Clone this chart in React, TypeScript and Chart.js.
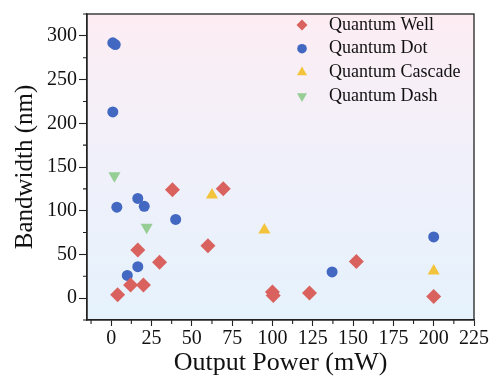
import React, { useEffect, useRef } from 'react';
import { Chart, registerables } from 'chart.js';

Chart.register(...registerables);

const seriesNames = ['Quantum Well', 'Quantum Dot', 'Quantum Cascade', 'Quantum Dash'];
const wellPower = [4, 12, 16.5, 20, 30, 38, 60, 69.5, 100, 100.5, 123, 152, 200];
const wellBandwidth = [4, 15, 55, 15, 41, 124, 60, 125, 7, 3, 6, 42, 2];
const dotPower = [1, 2.5, 1, 3.5, 16.5, 20.5, 40, 16.5, 10, 137, 200];
const dotBandwidth = [292, 290, 213, 104, 114, 105, 90, 36, 26, 30, 70];
const cascadePower = [62.5, 95, 200];
const cascadeBandwidth = [118, 78, 31];
const dashPower = [2, 22];
const dashBandwidth = [140, 81];

const xTickValues = [0, 25, 50, 75, 100, 125, 150, 175, 200, 225];
const yTickValues = [0, 50, 100, 150, 200, 250, 300];
const xMin = -15, xMax = 225, xStep = 25;
const yMin = -25, yMax = 325, yStep = 50;

const colors = ['#D9625F', '#4368C2', '#F4C33C', '#96CE96'];
const styles = ['rectRot', 'circle', 'triangle', 'triangle'];
const rotations = [0, 0, 0, 180];
const radii = [7.5, 5.5, 7, 7];
const legendSizes = [5.5, 4.8, 5.8, 5.8];

const FONT = "'Liberation Serif', 'Times New Roman', serif";
const AXIS = '#222';

function toXY(xs: number[], ys: number[]) {
  return xs.map((x, i) => ({ x, y: ys[i] }));
}

const bgPlugin = {
  id: 'bgPlugin',
  beforeDraw(chart: any) {
    const { ctx, chartArea: a } = chart;
    const g = ctx.createLinearGradient(0, a.top, 0, a.bottom);
    g.addColorStop(0, '#FDEDF3');
    g.addColorStop(0.45, '#F1F0FA');
    g.addColorStop(1, '#E5F2FC');
    ctx.save();
    ctx.fillStyle = g;
    ctx.fillRect(a.left, a.top, a.right - a.left, a.bottom - a.top);
    ctx.restore();
  },
  afterDraw(chart: any) {
    const { ctx, chartArea: a } = chart;
    ctx.save();
    ctx.strokeStyle = AXIS;
    ctx.lineWidth = 1.3;
    ctx.strokeRect(a.left, a.top, a.right - a.left, a.bottom - a.top);
    ctx.lineWidth = 1.1;
    const xs = chart.scales.x;
    const ys = chart.scales.y;
    ctx.beginPath();
    for (let v = xMin; v <= xMax; v += 0.5) {
      const m = ((v % xStep) + xStep) % xStep;
      if (Math.abs(m - xStep / 2) < 1e-6) {
        const px = xs.getPixelForValue(v);
        ctx.moveTo(px, a.bottom);
        ctx.lineTo(px, a.bottom + 4);
      }
    }
    for (let v = yMin; v <= yMax; v += 0.5) {
      const m = ((v % yStep) + yStep) % yStep;
      if (Math.abs(m - yStep / 2) < 1e-6) {
        const py = ys.getPixelForValue(v);
        ctx.moveTo(a.left, py);
        ctx.lineTo(a.left - 4, py);
      }
    }
    ctx.stroke();
    ctx.restore();
  },
};

const legendPlugin = {
  id: 'customLegend',
  afterDraw(chart: any) {
    const { ctx } = chart;
    ctx.save();
    ctx.font = `18px ${FONT}`;
    ctx.textBaseline = 'middle';
    ctx.textAlign = 'left';
    const x0 = 302, tx = 329, y0 = 25, dy = 23.7;
    chart.data.datasets.forEach((ds: any, i: number) => {
      const y = y0 + i * dy;
      ctx.fillStyle = colors[i];
      const r = legendSizes[i];
      ctx.beginPath();
      if (styles[i] === 'circle') {
        ctx.arc(x0, y, r, 0, Math.PI * 2);
      } else if (styles[i] === 'rectRot') {
        ctx.moveTo(x0, y - r);
        ctx.lineTo(x0 + r, y);
        ctx.lineTo(x0, y + r);
        ctx.lineTo(x0 - r, y);
      } else {
        const dir = rotations[i] === 180 ? -1 : 1;
        ctx.moveTo(x0, y - dir * r);
        ctx.lineTo(x0 + r * 0.866, y + dir * r * 0.5);
        ctx.lineTo(x0 - r * 0.866, y + dir * r * 0.5);
      }
      ctx.closePath();
      ctx.fill();
      ctx.fillStyle = '#111';
      ctx.fillText(ds.label, tx, y);
    });
    ctx.restore();
  },
};

export default function App() {
  const ref = useRef<HTMLCanvasElement | null>(null);
  useEffect(() => {
    if (!ref.current) return;
    const series = [
      toXY(wellPower, wellBandwidth),
      toXY(dotPower, dotBandwidth),
      toXY(cascadePower, cascadeBandwidth),
      toXY(dashPower, dashBandwidth),
    ];
    const chart = new Chart(ref.current, {
      type: 'scatter',
      data: {
        datasets: series.map((d, i) => ({
          label: seriesNames[i],
          data: d,
          backgroundColor: colors[i],
          borderColor: colors[i],
          borderWidth: 0,
          pointStyle: styles[i] as any,
          pointRotation: rotations[i],
          pointRadius: radii[i],
          pointBorderWidth: 0,
        })),
      },
      options: {
        animation: false,
        responsive: false,
        devicePixelRatio: 1,
        layout: { padding: { top: 8, right: 22, left: 0, bottom: 0 } },
        plugins: { legend: { display: false }, tooltip: { enabled: false } },
        scales: {
          x: {
            type: 'linear',
            min: xMin,
            max: xMax,
            afterFit: (s: any) => { s.height = 61; },
            afterBuildTicks: (s: any) => { s.ticks = xTickValues.map((v) => ({ value: v })); },
            ticks: {
              color: '#111',
              font: { family: FONT, size: 20 },
              padding: 1,
              maxRotation: 0,
              autoSkip: false,
            },
            grid: { drawOnChartArea: false, drawTicks: true, tickLength: 6, tickColor: AXIS, tickWidth: 1.1 },
            border: { color: AXIS, width: 1.3 },
            title: {
              display: true,
              text: 'Output Power (mW)',
              color: '#111',
              font: { family: FONT, size: 26 },
              padding: { top: 0, bottom: 2 },
            },
          },
          y: {
            type: 'linear',
            min: yMin,
            max: yMax,
            afterFit: (s: any) => { s.width = 87; },
            afterBuildTicks: (s: any) => { s.ticks = yTickValues.map((v) => ({ value: v })); },
            ticks: {
              color: '#111',
              font: { family: FONT, size: 20 },
              padding: 2,
              autoSkip: false,
            },
            grid: { drawOnChartArea: false, drawTicks: true, tickLength: 8, tickColor: AXIS, tickWidth: 1.1 },
            border: { color: AXIS, width: 1.3 },
            title: {
              display: true,
              text: 'Bandwidth (nm)',
              color: '#111',
              font: { family: FONT, size: 25 },
              padding: { top: 10, bottom: 0 },
            },
          },
        },
      },
      plugins: [bgPlugin, legendPlugin],
    });
    return () => chart.destroy();
  }, []);
  return (
    <div style={{ position: 'absolute', left: 0, top: 0, width: 496, height: 381 }}>
      <canvas ref={ref} width={496} height={381} style={{ width: 496, height: 381, display: 'block' }} />
    </div>
  );
}
